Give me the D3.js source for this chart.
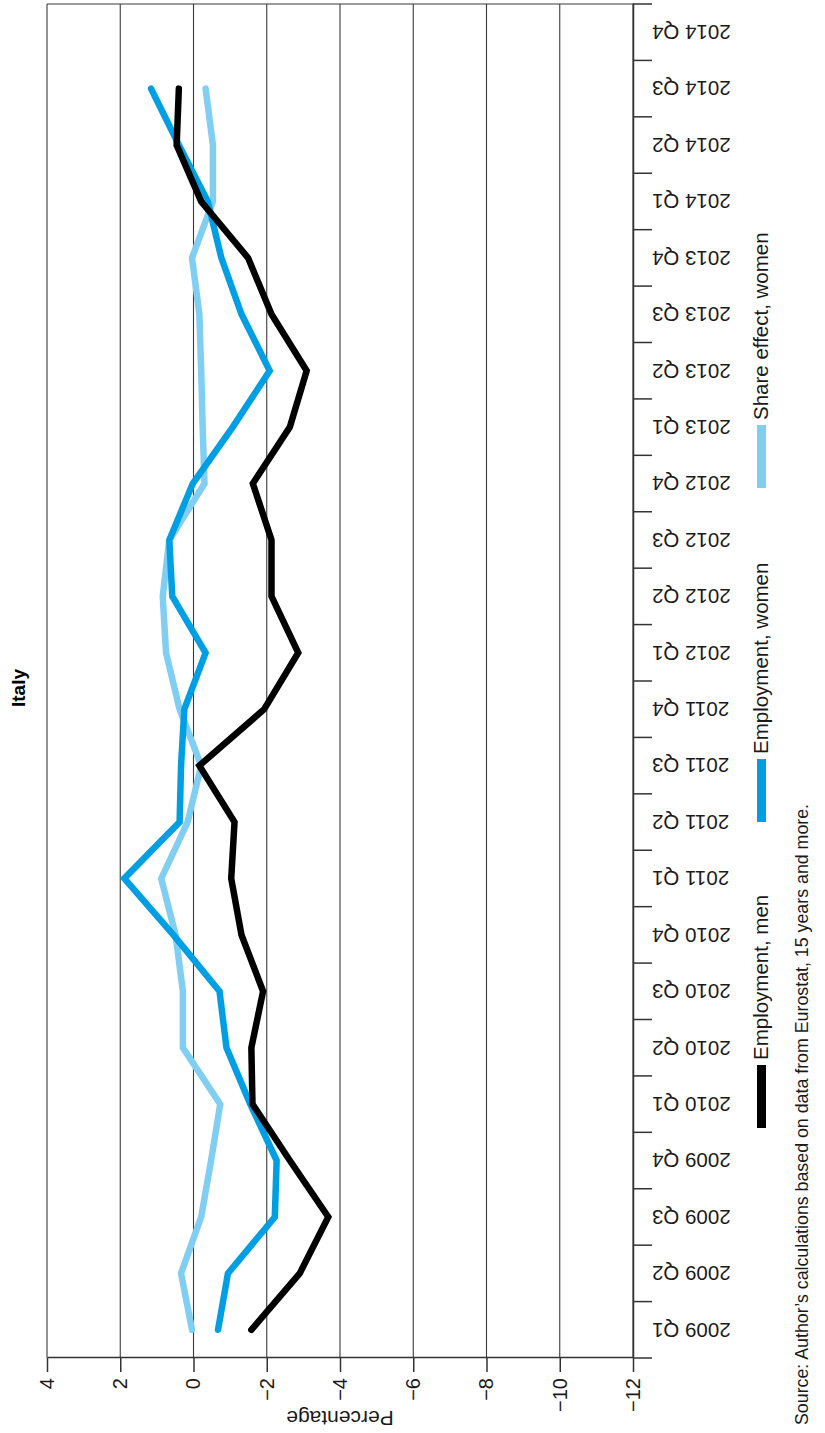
<!DOCTYPE html>
<html>
<head>
<meta charset="utf-8">
<script src="https://cdn.jsdelivr.net/npm/d3@7"></script>
<style>
  body { margin: 0; background: #fff; }
  text { font-family: "Liberation Sans", Arial, Helvetica, sans-serif; }
</style>
</head>
<body>
<div id="chart"></div>
<script>
const width = 825;
const height = 1433;

// quarters along the (rotated) category axis
const quarters = [
    "2009 Q1", "2009 Q2", "2009 Q3", "2009 Q4",
    "2010 Q1", "2010 Q2", "2010 Q3", "2010 Q4",
    "2011 Q1", "2011 Q2", "2011 Q3", "2011 Q4",
    "2012 Q1", "2012 Q2", "2012 Q3", "2012 Q4",
    "2013 Q1", "2013 Q2", "2013 Q3", "2013 Q4",
    "2014 Q1", "2014 Q2", "2014 Q3", "2014 Q4"
];

const yTicks = [4, 2, 0, -2, -4, -6, -8, -10, -12];

// values, 2009 Q1 .. 2014 Q3
const employmentMen = [-1.58, -2.9, -3.68, -2.63, -1.61, -1.58, -1.9, -1.31, -1.03, -1.12, -0.16, -1.93,
    -2.86, -2.13, -2.13, -1.62, -2.63, -3.09, -2.13, -1.49, -0.21, 0.46, 0.4];
const employmentWomen = [-0.67, -0.94, -2.22, -2.27, -1.55, -0.9, -0.71, 0.55, 1.89, 0.38, 0.34, 0.25,
    -0.33, 0.58, 0.66, 0.02, -1.07, -2.08, -1.31, -0.76, -0.39, 0.4, 1.16];
const shareWomen = [0.04, 0.34, -0.21, -0.48, -0.73, 0.29, 0.29, 0.49, 0.88, 0.16, -0.21, 0.38,
    0.75, 0.84, 0.66, -0.3, -0.25, -0.21, -0.16, 0.04, -0.53, -0.53, -0.33];

const seriesNames = ["Employment, men", "Employment, women", "Share effect, women"];
const seriesColors = ["#000000", "#009fe3", "#80cff3"];

const svg = d3.select("#chart").append("svg")
    .attr("width", width)
    .attr("height", height);

// the chart is laid out landscape and turned a quarter turn counter-clockwise
const g = svg.append("g")
    .attr("transform", `translate(0,${height}) rotate(-90)`);

const x = d3.scaleBand()
    .domain(quarters)
    .range([75, 1429]);

const y = d3.scaleLinear()
    .domain([-12, 4])
    .range([633, 47]);

const gridColor = "#3a3a3a";

// horizontal gridlines
g.selectAll(".grid")
    .data(yTicks)
    .join("line")
    .attr("class", "grid")
    .attr("x1", 75)
    .attr("x2", 1429)
    .attr("y1", d => y(d))
    .attr("y2", d => y(d))
    .attr("stroke", gridColor)
    .attr("stroke-width", 1.1);

// right border
g.append("line")
    .attr("x1", 1429).attr("x2", 1429)
    .attr("y1", y(4)).attr("y2", y(-12))
    .attr("stroke", gridColor)
    .attr("stroke-width", 1.1);

// category axis
const xAxis = g.append("g")
    .attr("transform", `translate(0,${y(-12)})`)
    .call(d3.axisBottom(x).tickSize(0).tickSizeOuter(0));

xAxis.select(".domain").attr("stroke", "#333").attr("stroke-width", 1.5);
xAxis.selectAll("text")
    .attr("transform", "rotate(-90)")
    .attr("x", -19)
    .attr("y", 0)
    .attr("dy", "0.35em")
    .attr("text-anchor", "end")
    .attr("fill", "#1a1a1a")
    .style("font-size", "20.5px")
    .style("font-family", "\"Liberation Sans\", Arial, sans-serif");

// tick marks between the quarters
g.selectAll(".qtick")
    .data(quarters.concat(["end"]))
    .join("line")
    .attr("class", "qtick")
    .attr("x1", d => d === "end" ? x.range()[1] : x(d))
    .attr("x2", d => d === "end" ? x.range()[1] : x(d))
    .attr("y1", y(-12))
    .attr("y2", y(-12) + 19)
    .attr("stroke", "#333")
    .attr("stroke-width", 1.5);

// value axis
const yAxis = g.append("g")
    .attr("transform", `translate(${x.range()[0]},0)`)
    .call(d3.axisLeft(y).tickValues(yTicks).tickSize(14).tickSizeOuter(0).tickPadding(6));

yAxis.select(".domain").attr("stroke", "#333").attr("stroke-width", 1.5);
yAxis.selectAll(".tick line").attr("stroke", "#333").attr("stroke-width", 1.5);
yAxis.selectAll("text")
    .attr("fill", "#1a1a1a")
    .style("font-size", "20px")
    .style("font-family", "\"Liberation Sans\", Arial, sans-serif");

g.append("text")
    .attr("transform", `translate(22,${(y(4) + y(-12)) / 2}) rotate(-90)`)
    .attr("text-anchor", "middle")
    .attr("fill", "#1a1a1a")
    .style("font-size", "21px")
    .text("Percentage");

// lines
const line = d3.line()
    .x((d, i) => x(quarters[i]) + x.bandwidth() / 2)
    .y(d => y(d));

const series = [shareWomen, employmentWomen, employmentMen];
const drawColors = [seriesColors[2], seriesColors[1], seriesColors[0]];

g.selectAll(".series")
    .data(series)
    .join("path")
    .attr("class", "series")
    .attr("d", line)
    .attr("fill", "none")
    .attr("stroke", (d, i) => drawColors[i])
    .attr("stroke-width", 6.5)
    .attr("stroke-linecap", "round")
    .attr("stroke-linejoin", "miter");

// title
g.append("text")
    .attr("x", 745)
    .attr("y", 25)
    .attr("text-anchor", "middle")
    .attr("font-weight", "bold")
    .attr("fill", "#000")
    .style("font-size", "19px")
    .text("Italy");

// legend
const legendX = [305, 611, 945];
const legend = g.selectAll(".legend")
    .data(seriesNames)
    .join("g")
    .attr("class", "legend")
    .attr("transform", (d, i) => `translate(${legendX[i]},757)`);

legend.append("rect")
    .attr("width", 63)
    .attr("height", 9)
    .attr("fill", (d, i) => seriesColors[i]);

legend.append("text")
    .attr("x", 68)
    .attr("y", 11)
    .attr("fill", "#1a1a1a")
    .style("font-size", "20.5px")
    .text(d => d);

// source
g.append("text")
    .attr("x", 8)
    .attr("y", 808)
    .attr("fill", "#1a1a1a")
    .style("font-size", "17.8px")
    .text("Source: Author\u2019s calculations based on data from Eurostat, 15 years and more.");
</script>
</body>
</html>
